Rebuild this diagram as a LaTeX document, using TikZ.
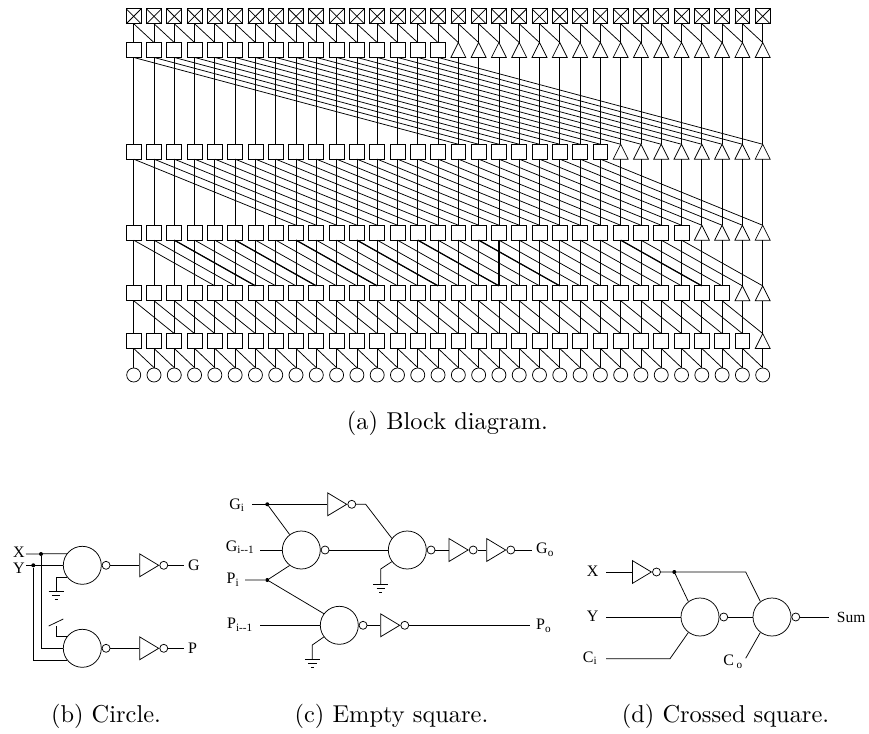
\documentclass[tikz,border=0pt]{standalone}
\usepackage{fontspec}
\usetikzlibrary{calc}
\usetikzlibrary{shapes.geometric}
\newfontfamily\labelfont{Liberation Serif}
\tikzset{
  wire/.style={line width=0.75pt},
  cell/.style={inner sep=0pt,minimum size=14.5pt},
  gatebody/.style={circle,draw,wire,inner sep=0pt,minimum size=38pt},
  bubble/.style={circle,draw,wire,inner sep=0pt,minimum size=8pt,anchor=west},
  inverter/.style={isosceles triangle,isosceles triangle apex angle=62,draw,wire,inner sep=0pt,
    minimum height=19pt,minimum width=22.7pt,anchor=lower side},
  junction/.style={circle,fill=black,inner sep=0pt,minimum size=4pt},
  lab/.style={font=\labelfont\fontsize{16}{16}\selectfont,inner sep=0pt},
  caption/.style={scale=2.44,inner sep=0pt}
}
% ground symbol hanging below a named coordinate
\newcommand{\groundat}[1]{
\draw[wire] ($(#1)+(-7.5,0)$) -- ($(#1)+(7.5,0)$);
\draw[wire] ($(#1)+(-4.2,4)$) -- ($(#1)+(4.2,4)$);
\draw[wire] ($(#1)+(-1.5,8)$) -- ($(#1)+(1.5,8)$);
}
\begin{document}
\begin{tikzpicture}[x=1pt,y=-1pt]
\useasboundingbox (0,0) rectangle (869,733);
\def\u{20.29}
% block diagram: cells, row 0 crossed, rows 1-5 squares then triangles, row 6 circles
\foreach \i in {0,...,31} {
  \node[cell] (a0-\i) at (133.7+\i*\u,16.3) {};
  \draw[wire] (a0-\i.south west) rectangle (a0-\i.north east);
  \draw[wire] (a0-\i.south west) -- (a0-\i.north east);
  \draw[wire] (a0-\i.north west) -- (a0-\i.south east);
  \node[cell,circle,draw,wire,minimum size=14pt] (a6-\i) at (133.7+\i*\u,375) {};
}
\foreach \r/\y/\k in {1/50/16,2/151.7/24,3/232.7/28,4/293.3/30,5/341/31} {
  \foreach \i in {0,...,31} {
    \node[cell] (a\r-\i) at (133.7+\i*\u,\y) {};
    \ifnum\i<\k
      \draw[wire] (a\r-\i.south west) rectangle (a\r-\i.north east);
    \else
      \draw[wire] (a\r-\i.south west) -- (a\r-\i.north) -- (a\r-\i.south east) -- cycle;
    \fi
  }
}
% verticals and diagonals between rows
\foreach \r/\s/\d in {0/1/1,1/2/16,2/3/8,3/4/4,4/5/2,5/6/1} {
  \foreach \i in {0,...,31} {
    \draw[wire] (a\r-\i.south) -- (a\s-\i.north);
    \pgfmathtruncatemacro\j{\i+\d}
    \ifnum\j<32
      \draw[wire] (a\r-\i.south) -- (a\s-\j.north);
    \fi
  }
}
% heavier carries
\foreach \i/\j in {2/6,5/9,8/12,11/15,14/18,17/21,24/28} {
  \draw[line width=1.2pt] (a3-\i.south) -- (a4-\j.north);
  \draw[line width=0.9pt] (a3-\j.south) -- (a4-\j.north);
}
\node[caption] (capa) at (447.5,423.5) {(a) Block diagram.};

% circle cell
\node[gatebody] (b1) at (82.3,565.3) {};
\node[gatebody] (b2) at (82.3,648.3) {};
\node[bubble] (b1o) at (b1.east) {};
\node[bubble] (b2o) at (b2.east) {};
\node[inverter] (b1i) at (139.3,565.3) {};
\node[inverter] (b2i) at (139.3,648.3) {};
\node[bubble] (b1p) at (b1i.apex) {};
\node[bubble] (b2p) at (b2i.apex) {};
\node[lab] (bx) at (19,552.7) {X};
\node[lab] (by) at (19,568) {Y};
\node[lab,anchor=west] (bg) at (188,565.3) {G};
\node[lab,anchor=west] (bq) at (188,648.3) {P};
\node[junction] (bj1) at (41,554) {};
\node[junction] (bj2) at (33.3,565.3) {};
\coordinate (bx0) at (26,554);
\coordinate (by0) at (26,565.3);
\coordinate (bw1) at (184.3,565.3);
\coordinate (bw2) at (184.3,648.3);
\coordinate (bgnd) at (56,591.7);
\coordinate (bvdd) at (56,626);
\coordinate (bvl) at (48.7,626);
\coordinate (bvr) at (63.3,619);
\draw[wire] (bx0) -- (b1.143);
\draw[wire] (by0) -- (b1.west);
\draw[wire] (bj1) |- (b2.west);
\draw[wire] (bj2) |- (b2.217);
\draw[wire] (b1o) -- (b1i.lower side);
\draw[wire] (b2o) -- (b2i.lower side);
\draw[wire] (b1p) -- (bw1);
\draw[wire] (b2p) -- (bw2);
\draw[wire] (b1.217) -| (bgnd);
\draw[wire] (b2.143) -| (bvdd);
\draw[wire] (bvl) -- (bvr);
\groundat{bgnd}
\node[caption] (capb) at (106,716.7) {(b) Circle.};

% empty square cell
\node[gatebody] (c1) at (301.3,550) {};
\node[gatebody] (c2) at (407.3,550) {};
\node[gatebody] (c3) at (339.3,625.3) {};
\node[bubble] (c1o) at (c1.east) {};
\node[bubble] (c2o) at (c2.east) {};
\node[bubble] (c3o) at (c3.east) {};
\node[inverter] (c1i) at (327.3,504.3) {};
\node[bubble] (c1p) at (c1i.apex) {};
\node[inverter] (c2i) at (448.7,550) {};
\node[bubble] (c2p) at (c2i.apex) {};
\node[inverter] (c4i) at (486.3,550) {};
\node[bubble] (c4p) at (c4i.apex) {};
\node[inverter] (c3i) at (380.3,625.3) {};
\node[bubble] (c3p) at (c3i.apex) {};
\node[lab] (cg) at (237,505) {G\textsubscript{i}};
\node[lab] (cgm) at (240,547) {G\textsubscript{i--1}};
\node[lab] (cp) at (233,580) {P\textsubscript{i}};
\node[lab] (cpm) at (240,625) {P\textsubscript{i--1}};
\node[lab,anchor=west] (cgo) at (536,550) {G\textsubscript{o}};
\node[lab,anchor=west] (cpo) at (536,626) {P\textsubscript{o}};
\node[junction] (cj1) at (267.3,504.3) {};
\node[junction] (cj2) at (267.3,580) {};
\coordinate (cg0) at (252.3,504.3);
\coordinate (cgm0) at (260,550);
\coordinate (cp0) at (245,580);
\coordinate (cpm0) at (260,625.3);
\coordinate (cgo0) at (532,550);
\coordinate (cpo0) at (530,625.3);
\coordinate (ck1) at (365.7,504.3);
\coordinate (ck2) at (380.7,569);
\coordinate (cgnd2) at (380.7,584.3);
\coordinate (ck3) at (312.3,645);
\coordinate (cgnd3) at (312.3,659.3);
\draw[wire] (cg0) -- (c1i.lower side);
\draw[wire] (c1p) -- (ck1) -- (c2.143);
\draw[wire] (cj1) -- (c1.127);
\draw[wire] (cgm0) -- (c1.west);
\draw[wire] (c1o) -- (c2.west);
\draw[wire] (c2o) -- (c2i.lower side);
\draw[wire] (c2p) -- (c4i.lower side);
\draw[wire] (c4p) -- (cgo0);
\draw[wire] (c2.217) -- (ck2) -- (cgnd2);
\draw[wire] (cp0) -- (cj2) -- (c1.233);
\draw[wire] (cj2) -- (c3.143);
\draw[wire] (cpm0) -- (c3.west);
\draw[wire] (c3o) -- (c3i.lower side);
\draw[wire] (c3p) -- (cpo0);
\draw[wire] (c3.217) -- (ck3) -- (cgnd3);
\groundat{cgnd2}
\groundat{cgnd3}
\node[caption] (capc) at (391.5,716.7) {(c) Empty square.};

% crossed square cell
\node[gatebody] (d1) at (700,617) {};
\node[gatebody] (d2) at (772,617) {};
\node[bubble] (d1o) at (d1.east) {};
\node[bubble] (d2o) at (d2.east) {};
\node[inverter] (d1i) at (632,572) {};
\node[bubble] (d1p) at (d1i.apex) {};
\node[lab] (dx) at (592.7,571.7) {X};
\node[lab] (dy) at (592.7,616.7) {Y};
\node[lab] (dc) at (590,658) {C\textsubscript{i}};
\node[lab] (do) at (733,661.7) {C\,\textsubscript{o}};
\node[lab,anchor=west,font=\labelfont\fontsize{15.5}{15.5}\selectfont] (ds) at (836.7,617) {Sum};
\node[junction] (dj) at (674.3,572) {};
\coordinate (dx0) at (606,572);
\coordinate (dy0) at (606,617);
\coordinate (dc0) at (606,658.7);
\coordinate (dc1) at (670,658.7);
\coordinate (dk) at (745.7,572);
\coordinate (do0) at (745.7,658.3);
\coordinate (ds0) at (828.7,617);
\draw[wire] (dx0) -- (d1i.lower side);
\draw[wire] (d1p) -- (dk) -- (d2.127);
\draw[wire] (dj) -- (d1.127);
\draw[wire] (dy0) -- (d1.west);
\draw[wire] (dc0) -- (dc1) -- (d1.233);
\draw[wire] (d1o) -- (d2.west);
\draw[wire] (do0) -- (d2.233);
\draw[wire] (d2o) -- (ds0);
\node[caption] (capd) at (725.5,716.7) {(d) Crossed square.};
\end{tikzpicture}
\end{document}
